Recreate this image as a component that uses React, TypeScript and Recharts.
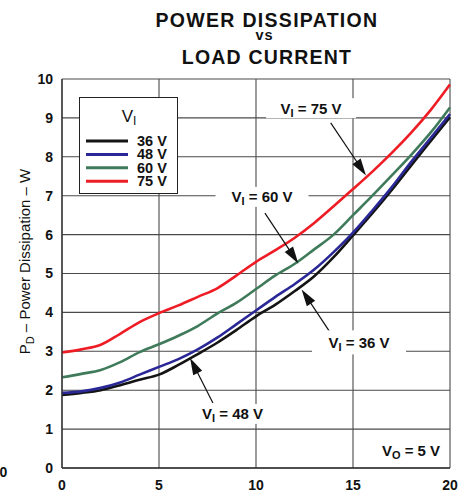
import React from 'react';
import {
  LineChart,
  Line,
  XAxis,
  YAxis,
  CartesianGrid,
  Legend,
  Label,
  ReferenceDot,
  ReferenceLine,
} from 'recharts';

// load current, A
const loadCurrent = [0, 1, 2, 3, 4, 5, 6, 7, 8, 9, 10, 11, 12, 13, 14, 15, 16, 17, 18, 19, 20];

// power dissipation, W, one list per input voltage
const pd36 = [1.88, 1.93, 2.0, 2.13, 2.27, 2.4, 2.65, 2.93, 3.22, 3.55, 3.9, 4.2, 4.55, 4.93, 5.42, 5.98, 6.55, 7.15, 7.78, 8.4, 9.02];
const pd48 = [1.93, 1.97, 2.06, 2.2, 2.4, 2.6, 2.8, 3.05, 3.35, 3.7, 4.05, 4.4, 4.73, 5.1, 5.55, 6.05, 6.62, 7.22, 7.87, 8.48, 9.1];
const pd60 = [2.33, 2.42, 2.52, 2.72, 2.98, 3.18, 3.4, 3.65, 3.97, 4.25, 4.6, 4.95, 5.25, 5.62, 6.0, 6.5, 7.0, 7.52, 8.05, 8.62, 9.27];
const pd75 = [2.97, 3.05, 3.17, 3.45, 3.75, 3.98, 4.18, 4.4, 4.62, 4.95, 5.3, 5.6, 5.92, 6.3, 6.73, 7.17, 7.62, 8.1, 8.62, 9.2, 9.86];

const xTicks = [0, 5, 10, 15, 20];
const yTicks = [0, 1, 2, 3, 4, 5, 6, 7, 8, 9, 10];

const seriesNames = ['36 V', '48 V', '60 V', '75 V'];
const seriesValues = [pd36, pd48, pd60, pd75];
const seriesColors = ['#141414', '#2a2896', '#3f7b5b', '#ee1c25'];

const data = loadCurrent.map((x, i) => {
  const row: Record<string, number> = { x };
  seriesNames.forEach((n, s) => {
    row[n] = seriesValues[s][i];
  });
  return row;
});

const FONT = '"Liberation Sans", Arial, Helvetica, sans-serif';

// callout labels (sub = subscript letter)
const callouts = [
  { x: 12.84, y: 9.25, sub: 'I', rest: ' = 75 V', w: 90, h: 20 },
  { x: 10.31, y: 6.97, sub: 'I', rest: ' = 60 V', w: 93, h: 20 },
  { x: 15.31, y: 3.23, sub: 'I', rest: ' = 36 V', w: 94, h: 24 },
  { x: 8.79, y: 1.39, sub: 'I', rest: ' = 48 V', w: 70, h: 20 },
  { x: 17.99, y: 0.46, sub: 'O', rest: ' = 5 V', w: 62, h: 18 },
];

const arrows = [
  { from: { x: 13.85, y: 8.87 }, to: { x: 15.67, y: 7.52 } },
  { from: { x: 10.46, y: 6.55 }, to: { x: 12.18, y: 5.26 } },
  { from: { x: 13.99, y: 3.36 }, to: { x: 12.35, y: 4.59 } },
  { from: { x: 7.78, y: 1.67 }, to: { x: 6.6, y: 2.83 } },
];

const calloutShape = (c: typeof callouts[number]) => (p: any) => {
  const { cx, cy } = p;
  return (
    <g>
      <rect x={cx - c.w / 2} y={cy - c.h / 2} width={c.w} height={c.h} fill="#fff" />
      <text x={cx} y={cy + 5.4} textAnchor="middle" fontFamily={FONT} fontWeight="bold" fontSize={15} fill="#111">
        <tspan>V</tspan>
        <tspan fontSize={11} dy={3}>{c.sub}</tspan>
        <tspan dy={-3}>{c.rest}</tspan>
      </text>
    </g>
  );
};

const arrowShape = (p: any) => {
  const { x1, y1, x2, y2 } = p;
  const dx = x2 - x1;
  const dy = y2 - y1;
  const len = Math.hypot(dx, dy) || 1;
  const ux = dx / len;
  const uy = dy / len;
  const hl = 17;
  const hw = 5;
  const bx = x2 - ux * hl;
  const by = y2 - uy * hl;
  return (
    <g>
      <line x1={x1} y1={y1} x2={bx + ux * 2} y2={by + uy * 2} stroke="#111" strokeWidth={1.2} />
      <polygon
        points={`${x2},${y2} ${bx - uy * hw},${by + ux * hw} ${bx + uy * hw},${by - ux * hw}`}
        fill="#111"
      />
    </g>
  );
};

const LegendBox = (props: any) => {
  const payload = props.payload || [];
  return (
    <svg width={99} height={97} style={{ display: 'block' }}>
      <rect x={0.5} y={0.5} width={98} height={96} fill="#fff" stroke="#222" strokeWidth={1} />
      <text x={50} y={25} textAnchor="middle" fontFamily={FONT} fontSize={17} fill="#111">
        <tspan>V</tspan>
        <tspan fontSize={12} dy={3}>I</tspan>
      </text>
      {payload.map((entry: any, i: number) => {
        const y = 44 + i * 13.4;
        return (
          <g key={entry.value}>
            <line x1={7} x2={49} y1={y} y2={y} stroke={entry.color} strokeWidth={3} />
            <text x={58} y={y + 5} fontFamily={FONT} fontWeight="bold" fontSize={14.5} fill="#111">
              {entry.value}
            </text>
          </g>
        );
      })}
    </svg>
  );
};

const yLabel = (p: any) => {
  const vb = p.viewBox || { x: 12, y: 79, width: 50, height: 389 };
  const x = vb.x + 18;
  const y = vb.y + vb.height / 2 - 12;
  return (
    <text x={x} y={y} transform={`rotate(-90, ${x}, ${y})`} textAnchor="middle" fontFamily={FONT} fontSize={15} fill="#111">
      <tspan>P</tspan>
      <tspan fontSize={11} dy={4}>D</tspan>
      <tspan dy={-4}> – Power Dissipation – W</tspan>
    </text>
  );
};

const xLabel = (p: any) => {
  const vb = p.viewBox || { x: 62, y: 468, width: 388, height: 30 };
  const x = vb.x + vb.width / 2;
  const y = vb.y + 46;
  return (
    <text x={x} y={y} textAnchor="middle" fontFamily={FONT} fontSize={16} fill="#111">
      <tspan>I</tspan>
      <tspan fontSize={11} dy={4}>L</tspan>
      <tspan dy={-4}> – Load Current – A</tspan>
    </text>
  );
};

const tickStyle = { fontFamily: FONT, fontWeight: 'bold' as const, fontSize: 14, fill: '#111' };

const App = () => {
  return (
    <div
      style={{
        position: 'absolute',
        left: 0,
        top: 0,
        width: 469,
        height: 500,
        overflow: 'hidden',
        background: '#fff',
      }}
    >
      <LineChart width={469} height={520} data={data} margin={{ top: 79, right: 19, bottom: 22, left: 12 }}>
        <CartesianGrid stroke="#4a4a4a" strokeWidth={1.1} />
        <XAxis
          dataKey="x"
          type="number"
          domain={[0, 20]}
          ticks={xTicks}
          tick={tickStyle}
          tickLine={false}
          tickSize={0}
          tickMargin={12}
          height={30}
          axisLine={{ stroke: '#333', strokeWidth: 1.3 }}
        >
          <Label content={xLabel} />
        </XAxis>
        <YAxis
          type="number"
          domain={[0, 10]}
          ticks={yTicks}
          tick={tickStyle}
          tickLine={false}
          tickSize={0}
          tickMargin={9}
          width={50}
          axisLine={{ stroke: '#333', strokeWidth: 1.3 }}
        >
          <Label content={yLabel} />
        </YAxis>
        <Legend
          layout="horizontal"
          verticalAlign="middle"
          align="center"
          content={<LegendBox />}
          wrapperStyle={{ position: 'absolute', left: 79, top: 97, width: 99, height: 97 }}
        />
        {seriesNames.map((n, s) => (
          <Line
            key={n}
            dataKey={n}
            name={n}
            type="monotone"
            stroke={seriesColors[s]}
            strokeWidth={2.6}
            dot={false}
            isAnimationActive={false}
          />
        ))}
        {arrows.map((a, i) => (
          <ReferenceLine key={`arrow-${i}`} segment={[a.from, a.to]} shape={arrowShape} />
        ))}
        {callouts.map((c, i) => (
          <ReferenceDot key={`callout-${i}`} x={c.x} y={c.y} r={0} shape={calloutShape(c)} />
        ))}
      </LineChart>
      <svg
        width={469}
        height={500}
        style={{ position: 'absolute', left: 0, top: 0, pointerEvents: 'none' }}
      >
        <g fontFamily={FONT} fontWeight="bold" fill="#111" textAnchor="middle">
          <text x={267} y={26.7} fontSize={19.5} letterSpacing={1.3}>POWER DISSIPATION</text>
          <text x={264.5} y={39.5} fontSize={14.5} letterSpacing={1}>vs</text>
          <text x={267} y={64} fontSize={19.5} letterSpacing={1.2}>LOAD CURRENT</text>
        </g>
        <text x={-0.5} y={477} fontFamily={FONT} fontWeight="bold" fontSize={14} fill="#111">0</text>
      </svg>
    </div>
  );
};

export default App;
